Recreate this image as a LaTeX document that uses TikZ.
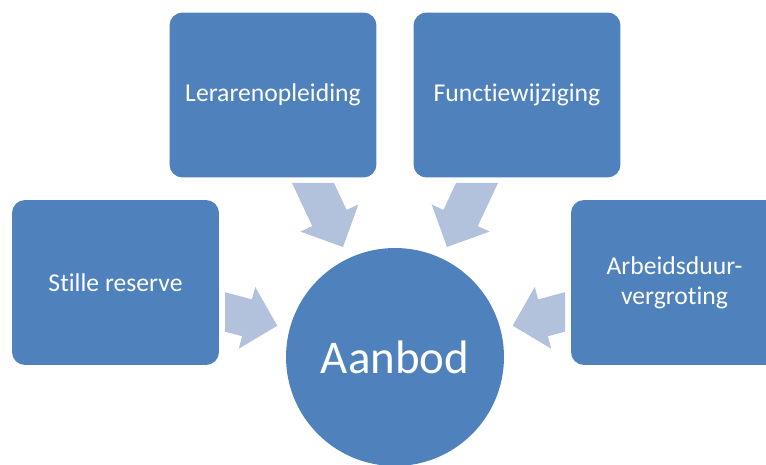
\documentclass[tikz,border=0pt]{standalone}
\usepackage{fontspec}
\setmainfont{Carlito}[Ligatures={NoCommon,NoRare}, Contextuals={NoAlternate}]
\definecolor{boxblue}{RGB}{79,129,189}
\definecolor{arrowblue}{RGB}{178,194,221}
\begin{document}
\begin{tikzpicture}[x=0.02cm,y=-0.02cm,
  box/.style={fill=boxblue, rounded corners=7.4pt, minimum width=4.14cm, minimum height=3.3cm,
    text=white, font=\fontsize{14.6}{17.2}\selectfont, align=center, inner sep=0pt},
  hub/.style={circle, fill=boxblue, minimum size=4.36cm, inner sep=0pt, text=white,
    font=\fontsize{26.7}{32}\selectfont},
  blockarrow/.style={fill=arrowblue}]
\useasboundingbox (0,0) rectangle (766,465);
\clip (0,0) rectangle (766,465);
\node[box] (stille) at (115.5,282.5) {Stille reserve};
\node[box] (leraren) at (273,95) {Lerarenopleiding};
\node[box] (functie) at (517,95) {Functiewijziging};
\node[box] (arbeid) at (674.5,282.5) {Arbeidsduur-\\vergroting};
\node[hub] (aanbod) at (395,357) {Aanbod};
% block arrows pointing to the hub
\fill[blockarrow] (292,183) -- (334,183) -- (346.6,209.9) -- (358.4,204.4) -- (343,247) -- (300.4,231.6) -- (312.2,226.1) -- cycle;
\fill[blockarrow] (498,183) -- (456,183) -- (443.4,209.9) -- (431.6,204.4) -- (447,247) -- (489.6,231.6) -- (477.8,226.1) -- cycle;
\fill[blockarrow] (225,292.2) -- (251.9,299.4) -- (255.2,286.9) -- (277.3,325.7) -- (238.8,348.7) -- (242.1,336.2) -- (225,331.7) -- cycle;
\fill[blockarrow] (565,292.2) -- (538.1,299.4) -- (534.8,286.9) -- (512.7,325.7) -- (551.2,348.7) -- (547.9,336.2) -- (565,331.7) -- cycle;
\end{tikzpicture}
\end{document}
